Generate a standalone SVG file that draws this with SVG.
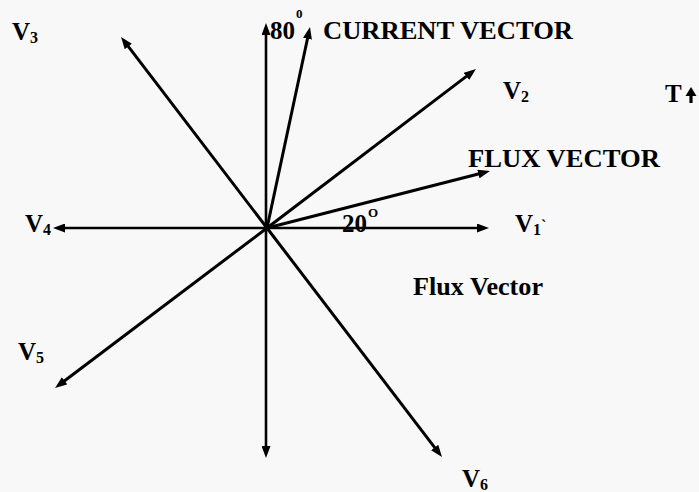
<svg xmlns="http://www.w3.org/2000/svg" width="699" height="492" viewBox="0 0 699 492">
<style>
.t{font-family:"Liberation Serif","Times New Roman",serif;font-weight:bold;fill:#000;}
.v{font-size:25px;}
.s{font-size:16px;}
.l{font-size:25px;}
.sup{font-size:13px;}
.ln{stroke:#000;stroke-width:3;fill:none;marker-end:url(#ah);}
.ax{stroke-width:2.6;}
</style>
<defs>
<marker id="ah" viewBox="0 0 12 9" refX="2" refY="4.5" markerWidth="12" markerHeight="9" markerUnits="userSpaceOnUse" orient="auto">
<path d="M0,0 L12,4.5 L0,9 z" fill="#000"/>
</marker>
</defs>
<rect width="699" height="492" fill="#f7f8f7"/>
<g id="connectors">
<line class="ln ax" x1="266" y1="228" x2="266" y2="33"/>
<line class="ln ax" x1="266" y1="228" x2="266" y2="448"/>
<line class="ln ax" x1="267" y1="228" x2="63" y2="228"/>
<line class="ln ax" x1="267" y1="228" x2="479" y2="228"/>
<line class="ln" x1="267" y1="228" x2="127.1" y2="44.9"/>
<line class="ln" x1="267" y1="228" x2="307.9" y2="36.8"/>
<line class="ln" x1="267" y1="228" x2="468" y2="75.1"/>
<line class="ln" x1="267" y1="228" x2="480.3" y2="173.5"/>
<line class="ln" x1="267" y1="228" x2="63" y2="382"/>
<line class="ln" x1="267" y1="228" x2="435.9" y2="449.1"/>
</g>
<g id="v3"><text class="t v" x="12" y="40">V<tspan class="s" dy="3">3</tspan></text></g>
<g id="angle80"><text class="t l" x="270" y="39">80</text><text class="t sup" x="296" y="18">0</text></g>
<g id="current"><text class="t l" x="323" y="39" textLength="250" lengthAdjust="spacingAndGlyphs">CURRENT VECTOR</text></g>
<g id="v2"><text class="t v" x="503" y="99">V<tspan class="s" dy="3">2</tspan></text></g>
<g id="torque"><text class="t v" x="665" y="102">T</text><line x1="691" y1="103" x2="691" y2="94" stroke="#000" stroke-width="3.2"/><path d="M685.5,96 L691,87 L696.5,96 z" fill="#000"/></g>
<g id="flux"><text class="t l" x="468" y="167" textLength="192" lengthAdjust="spacingAndGlyphs">FLUX VECTOR</text></g>
<g id="angle20"><text class="t v" x="342" y="232">20</text><text class="t sup" x="368" y="217">O</text></g>
<g id="v1"><text class="t v" x="515" y="232">V<tspan class="s" dy="3">1</tspan><tspan class="s" dy="-4">`</tspan></text></g>
<g id="v4"><text class="t v" x="25" y="232">V<tspan class="s" dy="3">4</tspan></text></g>
<g id="fluxlabel"><text class="t l" x="413" y="295" textLength="130" lengthAdjust="spacingAndGlyphs">Flux Vector</text></g>
<g id="v5"><text class="t v" x="18" y="360">V<tspan class="s" dy="3">5</tspan></text></g>
<g id="v6"><text class="t v" x="462" y="487">V<tspan class="s" dy="3">6</tspan></text></g>
</svg>
